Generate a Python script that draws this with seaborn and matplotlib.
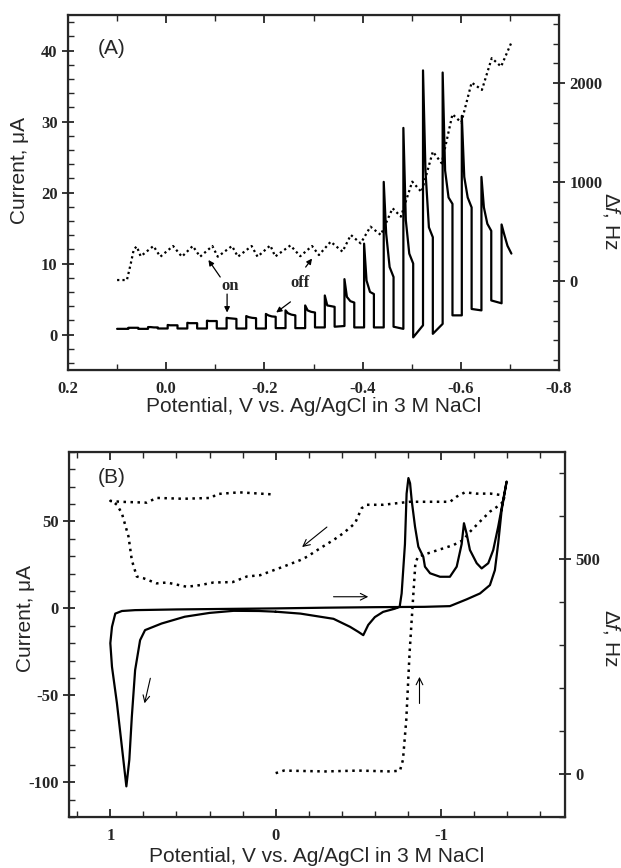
import numpy as np
import pandas as pd
import matplotlib
matplotlib.use('Agg')
import matplotlib.pyplot as plt
from matplotlib.ticker import FixedLocator, MultipleLocator, FormatStrFormatter
import seaborn as sns

# ---------------- panel A: potential pulse experiment ----------------
# current pulses (uA), one entry per pulse
pulse_start = [0.077, 0.037, -0.003, -0.043, -0.083, -0.123, -0.163, -0.203, -0.243, -0.283,
               -0.323, -0.363, -0.403, -0.443, -0.483, -0.523, -0.563, -0.602, -0.642, -0.683]
pulse_peak = [0.95, 1.05, 1.35, 1.65, 1.95, 2.35, 2.6, 2.9, 3.4, 4.1,
              5.5, 7.8, 12.8, 21.5, 29.1, 37.2, 36.9, 30.8, 22.2, 15.5]
pulse_decay1 = [0.95, 1.05, 1.3, 1.6, 1.9, 2.3, 2.45, 2.7, 3.0, 3.4,
                4.1, 5.3, 7.6, 14.2, 16.1, 23.1, 23.1, 22.2, 17.9, 14.2]
pulse_decay2 = [0.95, 1.0, 1.3, 1.6, 1.9, 2.25, 2.35, 2.55, 2.8, 3.2,
                4.0, 4.7, 6.0, 9.5, 11.4, 15.1, 19.3, 19.3, 15.6, 12.5]
pulse_end = [0.95, 1.0, 1.3, 1.6, 1.9, 2.2, 2.3, 2.5, 2.7, 3.1,
             3.9, 4.5, 5.7, 8.1, 10.0, 13.7, 18.4, 17.9, 14.6, 11.4]
off_start = [0.8, 0.85, 0.85, 0.85, 0.85, 0.85, 0.85, 0.9, 0.9, 1.0,
             1.1, 1.0, 1.0, 1.1, -0.4, 0.1, 2.7, 3.6, 4.8]
off_end = [0.8, 0.85, 0.85, 0.85, 0.85, 0.85, 0.85, 0.9, 0.9, 1.0,
           1.2, 1.0, 1.0, 0.8, 1.3, 1.5, 2.7, 3.4, 4.4]
scan_start = 0.10
base_start = 0.8

# frequency change (Hz) in panel A
freqA_x = [0.100, 0.080, 0.072, 0.066, 0.060, 0.052, 0.026, 0.012, -0.014, -0.032,
           -0.054, -0.069, -0.094, -0.105, -0.134, -0.146, -0.174, -0.186, -0.212, -0.222,
           -0.253, -0.273, -0.297, -0.311, -0.335, -0.359, -0.376, -0.396, -0.416, -0.437,
           -0.461, -0.478, -0.501, -0.520, -0.543, -0.561, -0.583, -0.601, -0.622, -0.643,
           -0.663, -0.682, -0.703]
freqA_y = [10, 10, 180, 320, 350, 250, 354, 246, 354, 246,
           354, 246, 354, 246, 354, 246, 354, 246, 360, 248,
           360, 251, 354, 263, 398, 297, 466, 381, 550, 466,
           736, 651, 1005, 900, 1309, 1191, 1687, 1602, 2007, 1933,
           2254, 2169, 2412]

# ---------------- panel B: cyclic voltammogram ----------------
cv_x = [0.00, -0.15, -0.27, -0.35, -0.45, -0.50, -0.53, -0.56, -0.60, -0.65,
        -0.72, -0.75, -0.762, -0.782, -0.792, -0.803, -0.813, -0.823, -0.843, -0.863,
        -0.893, -0.903, -0.934, -0.994, -1.054, -1.095, -1.125, -1.139, -1.155, -1.175,
        -1.216, -1.246, -1.286, -1.316, -1.346, -1.376, -1.397, -1.367, -1.346, -1.326,
        -1.296, -1.236, -1.155, -1.054, -0.90, -0.60, -0.30, 0.00, 0.30, 0.60,
        0.85, 0.93, 0.97, 0.99, 1.00, 0.99, 0.96, 0.93, 0.903, 0.885,
        0.87, 0.85, 0.82, 0.79, 0.69, 0.55, 0.40, 0.255, 0.10, 0.00]
cv_y = [-1.9, -3.0, -4.8, -6.0, -10.6, -13.5, -15.4, -9.5, -5.0, -2.0,
        -0.2, 0.9, 8.6, 37, 66, 75, 72, 62, 47, 35.5,
        29.7, 24, 20.2, 18.2, 18.2, 24, 37, 49, 43, 33.6,
        26, 23, 26, 33.6, 47, 62.4, 73, 56.6, 37.4, 22,
        13.4, 8.6, 5.2, 1.3, 0.9, 0.7, 0.4, 0.0, -0.3, -0.6,
        -1.0, -1.5, -3.0, -10.6, -20, -33.6, -54.6, -79.7, -102.4, -87,
        -62.4, -35.5, -18.3, -12.5, -8.7, -4.8, -2.6, -1.4, -1.5, -1.9]

freqB_x = [0.00, -0.05, -0.30, -0.50, -0.70, -0.752, -0.77, -0.79, -0.81, -0.833,
           -0.845, -0.86, -0.953, -1.074, -1.135, -1.175, -1.236, -1.296, -1.357, -1.39,
           -1.357, -1.30, -1.215, -1.145, -1.095, -1.055, -0.953, -0.81, -0.65, -0.55,
           -0.52, -0.48, -0.41, -0.35, -0.27, -0.19, -0.148, -0.047, 0.094, 0.174,
           0.26, 0.376, 0.456, 0.537, 0.658, 0.72, 0.80, 0.84, 0.87, 0.89,
           0.93, 0.96, 0.99, 1.00, 0.94, 0.78, 0.72, 0.557, 0.39, 0.355,
           0.22, 0.01]
freqB_y = [2, 8, 6, 8, 6, 8, 33, 126, 282, 420,
           490, 506, 518, 533, 545, 564, 588, 611, 627, 640,
           650, 653, 653, 656, 646, 634, 634, 634, 627, 627,
           619, 584, 561, 545, 526, 506, 498, 483, 463, 460,
           447, 446, 440, 436, 446, 444, 456, 460, 498, 553,
           607, 627, 636, 636, 634, 632, 643, 641, 643, 652,
           656, 651]


def pulse_trace():
    # staircase of potential pulses: on for 0.02 V, then off until the next pulse
    xs, ys = [scan_start], [base_start]
    for k, x0 in enumerate(pulse_start):
        xs += [x0, x0, x0 - 0.005, x0 - 0.012, x0 - 0.020]
        ys += [ys[-1], pulse_peak[k], pulse_decay1[k], pulse_decay2[k], pulse_end[k]]
        if k < len(off_start):
            xs += [x0 - 0.020, pulse_start[k + 1]]
            ys += [off_start[k], off_end[k]]
    return pd.DataFrame({'Potential': xs, 'Current': ys})


sns.set_style('ticks')
plt.rcParams['font.family'] = ['Liberation Sans', 'DejaVu Sans']
plt.rcParams['mathtext.fontset'] = 'custom'
plt.rcParams['mathtext.rm'] = 'Liberation Sans'
plt.rcParams['mathtext.it'] = 'Liberation Sans:italic'
plt.rcParams['axes.unicode_minus'] = False

TICK_FONT = dict(family='Liberation Serif', fontweight='bold', fontsize=12)
LABEL_SIZE = 15


def style_axes(ax, right=None):
    for sp in ax.spines.values():
        sp.set_linewidth(1.6)
    ax.tick_params(which='major', direction='inout', length=8, width=1.3, top=True, right=False)
    ax.tick_params(which='minor', direction='in', length=4, width=1.0, top=True, right=False)
    ax.tick_params(axis='x', which='major', top=True, direction='in', length=6, pad=8)
    plt.setp(ax.get_xticklabels() + ax.get_yticklabels(), **TICK_FONT)
    if right is not None:
        right.tick_params(which='major', direction='inout', length=8, width=1.3)
        right.tick_params(which='minor', direction='in', length=4, width=1.0)
        plt.setp(right.get_yticklabels(), **TICK_FONT)


def place_labels(ax, ax2, left_xy, right_xy, xlab_y):
    ax.set_xlabel('Potential, V vs. Ag/AgCl in 3 M NaCl', fontsize=LABEL_SIZE)
    ax.xaxis.set_label_coords(0.5, xlab_y)
    ax.xaxis.label.set_va('center')
    ax.set_ylabel('Current, μA', fontsize=LABEL_SIZE)
    ax.yaxis.set_label_coords(*left_xy)
    ax.yaxis.label.set_va('center')
    ax2.set_ylabel(r'$\Delta\mathit{f}$, Hz', fontsize=LABEL_SIZE, rotation=270)
    ax2.yaxis.set_label_coords(*right_xy)
    ax2.yaxis.label.set_va('center')
    ax2.yaxis.label.set_ha('center')


fig = plt.figure(figsize=(6.21, 8.68), dpi=100)

# ---------- (A) ----------
axA = fig.add_axes([0.1095, 0.5737, 0.7907, 0.409])
axA2 = axA.twinx()

sns.lineplot(data=pulse_trace(), x='Potential', y='Current', sort=False, estimator=None,
             ax=axA, color='black', lw=1.6)
sns.lineplot(x=freqA_x, y=freqA_y, sort=False, estimator=None, ax=axA2,
             color='black', lw=1.6, linestyle=(0, (1, 1.4)))

axA.set_xlim(0.2, -0.8)
axA.set_ylim(-5, 45)
axA2.set_ylim(-900, 2690)
axA.xaxis.set_major_locator(MultipleLocator(0.2))
axA.xaxis.set_minor_locator(MultipleLocator(0.1))
axA.xaxis.set_major_formatter(FormatStrFormatter('%.1f'))
axA.yaxis.set_major_locator(FixedLocator([0, 10, 20, 30, 40]))
axA.yaxis.set_minor_locator(MultipleLocator(2))
axA2.yaxis.set_major_locator(FixedLocator([0, 1000, 2000]))
axA2.yaxis.set_minor_locator(MultipleLocator(200))
place_labels(axA, axA2, (-0.098, 0.563), (1.106, 0.42), -0.104)
axA.text(0.088, 0.905, '(A)', transform=axA.transAxes, fontsize=15, ha='center', va='center')
style_axes(axA, axA2)

ann_font = dict(family='Liberation Serif', fontweight='bold', fontsize=12)
head = dict(arrowstyle='-|>', lw=0.9, color='black', mutation_scale=8, shrinkA=0, shrinkB=0)
axA.text(-0.131, 6.9, 'on', ha='center', va='center', **ann_font)
axA.text(-0.273, 7.2, 'off', ha='center', va='center', **ann_font)
axA.annotate('', xy=(-0.086, 10.5), xytext=(-0.110, 8.1), arrowprops=head)
axA.annotate('', xy=(-0.124, 3.1), xytext=(-0.124, 5.7), arrowprops=head)
axA.annotate('', xy=(-0.224, 3.1), xytext=(-0.253, 4.6), arrowprops=head)
axA.annotate('', xy=(-0.297, 10.7), xytext=(-0.284, 9.5), arrowprops=head)

# ---------- (B) ----------
axB = fig.add_axes([0.1111, 0.0588, 0.7987, 0.4205])
axB2 = axB.twinx()

sns.lineplot(x=cv_x, y=cv_y, sort=False, estimator=None, ax=axB, color='black', lw=1.6)
sns.lineplot(x=freqB_x, y=freqB_y, sort=False, estimator=None, ax=axB2,
             color='black', lw=1.8, linestyle=(0, (1, 1.8)))

axB.set_xlim(1.25, -1.75)
axB.set_ylim(-120, 90)
axB2.set_ylim(-100, 750)
axB.xaxis.set_major_locator(FixedLocator([1, 0, -1]))
axB.xaxis.set_minor_locator(MultipleLocator(0.2))
axB.xaxis.set_major_formatter(FormatStrFormatter('%d'))
axB.yaxis.set_major_locator(FixedLocator([-100, -50, 0, 50]))
axB.yaxis.set_minor_locator(MultipleLocator(10))
axB2.yaxis.set_major_locator(FixedLocator([0, 500]))
axB2.yaxis.set_minor_locator(MultipleLocator(100))
place_labels(axB, axB2, (-0.087, 0.545), (1.093, 0.49), -0.107)
axB.text(0.087, 0.93, '(B)', transform=axB.transAxes, fontsize=15, ha='center', va='center')
style_axes(axB, axB2)

thin = dict(arrowstyle='->', lw=0.8, color='black', mutation_scale=12, shrinkA=0, shrinkB=0)
axB.annotate('', xy=(-0.16, 35.3), xytext=(-0.31, 46.8), arrowprops=thin)
axB.annotate('', xy=(-0.56, 6.7), xytext=(-0.35, 6.7), arrowprops=thin)
axB.annotate('', xy=(-0.87, -39.4), xytext=(-0.87, -54.7), arrowprops=thin)
axB.annotate('', xy=(0.793, -54.6), xytext=(0.758, -40.2), arrowprops=thin)

fig.savefig('out.png', dpi=100)
